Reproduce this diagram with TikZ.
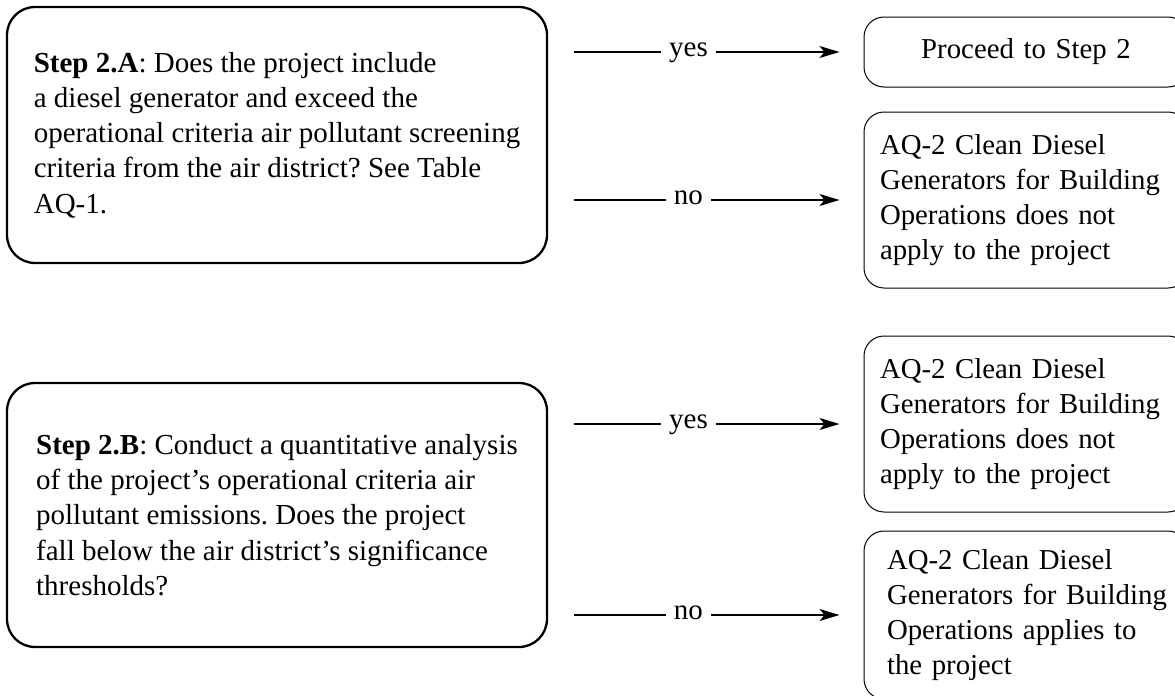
\documentclass[tikz,border=0pt]{standalone}
\usepackage{fontspec}
\setmainfont{Liberation Serif}
\usetikzlibrary{arrows.meta}
\begin{document}
\frenchspacing
\hyphenpenalty=10000
\exhyphenpenalty=10000
\begin{tikzpicture}[x=0.5pt,y=-0.5pt,
  ltxt/.style={font=\fontsize{14.5pt}{17.6pt}\selectfont},
  rtxt/.style={font=\fontsize{14.4pt}{17.4pt}\selectfont},
  qbox/.style={ltxt, draw, line width=1.15pt, rounded corners=14pt, minimum width=270pt, inner xsep=0pt, align=left},
  rbox/.style={rtxt, draw, line width=0.5pt, rounded corners=10pt, minimum width=162pt, text width=146pt, inner xsep=8pt, align=left},
  arr/.style={line width=0.75pt, -{Stealth[length=10pt,width=6pt,inset=2.5pt]}, shorten <=13pt, shorten >=12pt},
  lbl/.style={ltxt, fill=white, inner xsep=4pt, inner ysep=0pt, text height=0.8em, text depth=0.34em, pos=0.445}]
\useasboundingbox (0,0) rectangle (1175,696);
\clip (0,0) rectangle (1175,696);

\node[qbox, minimum height=128pt] (A) at (277,135) {\textbf{Step 2.A}: Does the project include\\ a diesel generator and exceed the\\ operational criteria air pollutant screening\\ criteria from the air district? See Table\\ AQ-1.};
\node[qbox, minimum height=132pt] (B) at (277,515) {\textbf{Step 2.B}: Conduct a quantitative analysis\\ of the project’s operational criteria air\\ pollutant emissions. Does the project\\ fall below the air district’s significance\\ thresholds?};

\node[rbox, minimum height=35pt, align=center] (P) at (1026,52) {Proceed to Step 2};
\node[rbox, minimum height=88pt] (NA) at (1026,200) {AQ-2 Clean Diesel\\ Generators for Building\\ Operations does not\\ apply to the project};
\node[rbox, minimum height=88pt] (YB) at (1026,424) {AQ-2 Clean Diesel\\ Generators for Building\\ Operations does not\\ apply to the project};
\node[rbox, minimum height=84pt, inner xsep=11.5pt, text width=139pt] (NB) at (1026,615) {AQ-2 Clean Diesel\\ \mbox{Generators for Building}\\ Operations applies to\\ the project};

\draw[arr] (A.east |- P.west) -- node[lbl] {yes} (P.west);
\draw[arr] (A.east |- NA.west) -- node[lbl] {no} (NA.west);
\draw[arr] (B.east |- YB.west) -- node[lbl] {yes} (YB.west);
\draw[arr] (B.east |- NB.west) -- node[lbl] {no} (NB.west);
\end{tikzpicture}
\end{document}
